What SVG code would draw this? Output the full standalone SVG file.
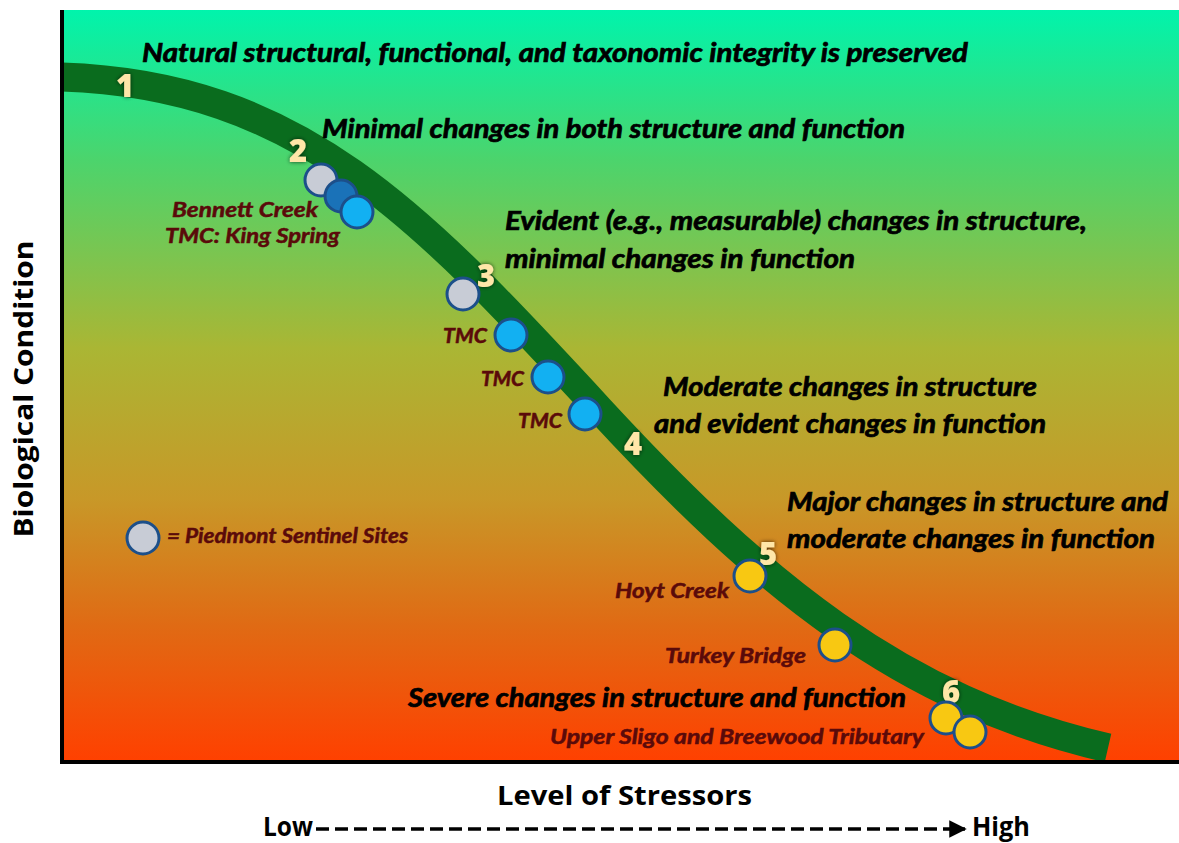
<svg xmlns="http://www.w3.org/2000/svg" width="1179" height="843" viewBox="0 0 1179 843">
  <defs>
    <linearGradient id="bg" x1="0" y1="10" x2="0" y2="762" gradientUnits="userSpaceOnUse">
      <stop offset="0" stop-color="#00f4ac"/>
      <stop offset="0.2" stop-color="#4cd46c"/>
      <stop offset="0.45" stop-color="#aab634"/>
      <stop offset="0.65" stop-color="#c89828"/>
      <stop offset="0.82" stop-color="#e06a14"/>
      <stop offset="1" stop-color="#ff4000"/>
    </linearGradient>
    <filter id="glow" x="-50%" y="-50%" width="200%" height="200%">
      <feGaussianBlur in="SourceAlpha" stdDeviation="2"/>
      <feComponentTransfer><feFuncA type="linear" slope="0.7"/></feComponentTransfer>
      <feMerge><feMergeNode/><feMergeNode in="SourceGraphic"/></feMerge>
    </filter>
    <marker id="arrow" viewBox="0 0 10 10" refX="9" refY="5" markerWidth="5" markerHeight="5" orient="auto" markerUnits="strokeWidth">
      <path d="M0 0 L10 5 L0 10 z" fill="#000"/>
    </marker>
  </defs>
  <style>
    .head { font-family: Lato, "Open Sans", sans-serif; font-weight: bold; font-style: italic; font-size: 27px; fill: #000; stroke: #000; stroke-width: 0.7; }
    .site { font-family: Lato, "Open Sans", sans-serif; font-weight: bold; font-style: italic; font-size: 20px; fill: #5a0a0a; stroke: #5a0a0a; stroke-width: 0.5; }
    .num { font-family: "Open Sans", Lato, sans-serif; font-weight: 800; font-size: 31px; fill: #ffe6a8; filter: url(#glow); }
    .axis { font-family: "Open Sans", Lato, sans-serif; font-weight: bold; font-size: 27px; fill: #000; }
    .gray { fill: #c8ccd6; stroke: #1c4f8a; stroke-width: 3; }
    .dblue { fill: #1a72b8; stroke: #1c4f8a; stroke-width: 3; }
    .lblue { fill: #12b0f2; stroke: #1c4f8a; stroke-width: 3; }
    .yellow { fill: #f8c812; stroke: #1c4f8a; stroke-width: 3; }
  </style>

  <rect width="1179" height="843" fill="#fff"/>
  <!-- plot background -->
  <rect x="62" y="10" width="1117" height="752" fill="url(#bg)"/>

  <!-- condition curve -->
  <g id="connectors">
    <path id="curve" d="M 62 77 C 300 85, 420 215, 600 410 C 760 583, 900 700, 1108 748" fill="none" stroke="#0a6c1e" stroke-width="29"/>
  </g>

  <!-- axes -->
  <g id="axes">
    <line x1="62" y1="10" x2="62" y2="764" stroke="#000" stroke-width="4"/>
    <line x1="60" y1="762" x2="1179" y2="762" stroke="#000" stroke-width="4"/>
  </g>

  <!-- tier numbers -->
  <g id="tiers">
    <text class="num" x="116" y="97">1</text>
    <text class="num" x="289" y="162">2</text>
    <text class="num" x="477" y="287">3</text>
    <text class="num" x="624" y="455">4</text>
    <text class="num" x="759" y="565">5</text>
    <text class="num" x="942" y="703">6</text>
  </g>

  <!-- tier descriptions -->
  <g id="descriptions">
    <text class="head" x="142" y="62" textLength="826" lengthAdjust="spacingAndGlyphs">Natural structural, functional, and taxonomic integrity is preserved</text>
    <text class="head" x="322" y="138" textLength="583" lengthAdjust="spacingAndGlyphs">Minimal changes in both structure and function</text>
    <text class="head" x="505" y="230" textLength="582" lengthAdjust="spacingAndGlyphs">Evident (e.g., measurable) changes in structure,</text>
    <text class="head" x="505" y="268" textLength="350" lengthAdjust="spacingAndGlyphs">minimal changes in function</text>
    <text class="head" x="663" y="396" textLength="374" lengthAdjust="spacingAndGlyphs">Moderate changes in structure</text>
    <text class="head" x="654" y="433" textLength="392" lengthAdjust="spacingAndGlyphs">and evident changes in function</text>
    <text class="head" x="787" y="511" textLength="381" lengthAdjust="spacingAndGlyphs">Major changes in structure and</text>
    <text class="head" x="787" y="548" textLength="368" lengthAdjust="spacingAndGlyphs">moderate changes in function</text>
    <text class="head" x="408" y="707" textLength="498" lengthAdjust="spacingAndGlyphs">Severe changes in structure and function</text>
  </g>

  <!-- monitoring sites -->
  <g id="site-bennett">
    <circle class="gray" cx="321" cy="180" r="16"/>
    <circle class="dblue" cx="341" cy="196" r="16"/>
    <circle class="lblue" cx="357" cy="212" r="16"/>
    <text class="site" x="172" y="217" textLength="146" lengthAdjust="spacingAndGlyphs">Bennett Creek</text>
    <text class="site" x="165" y="243" textLength="175" lengthAdjust="spacingAndGlyphs">TMC: King Spring</text>
  </g>
  <g id="site-tier3">
    <circle class="gray" cx="463" cy="294" r="16"/>
  </g>
  <g id="site-tmc1">
    <circle class="lblue" cx="511" cy="335" r="16"/>
    <text class="site" x="443" y="343" textLength="44" lengthAdjust="spacingAndGlyphs">TMC</text>
  </g>
  <g id="site-tmc2">
    <circle class="lblue" cx="548" cy="377" r="16"/>
    <text class="site" x="481" y="386" textLength="43" lengthAdjust="spacingAndGlyphs">TMC</text>
  </g>
  <g id="site-tmc3">
    <circle class="lblue" cx="585" cy="414" r="16"/>
    <text class="site" x="518" y="428" textLength="44" lengthAdjust="spacingAndGlyphs">TMC</text>
  </g>
  <g id="site-hoyt">
    <circle class="yellow" cx="750" cy="576" r="16"/>
    <text class="site" x="615" y="598" textLength="114" lengthAdjust="spacingAndGlyphs">Hoyt Creek</text>
  </g>
  <g id="site-turkey">
    <circle class="yellow" cx="835" cy="645" r="16"/>
    <text class="site" x="665" y="663" textLength="141" lengthAdjust="spacingAndGlyphs">Turkey Bridge</text>
  </g>
  <g id="site-sligo">
    <circle class="yellow" cx="946" cy="718" r="16"/>
    <circle class="yellow" cx="970" cy="732" r="16"/>
    <text class="site" x="550" y="744" textLength="374" lengthAdjust="spacingAndGlyphs">Upper Sligo and Breewood Tributary</text>
  </g>

  <!-- legend -->
  <g id="legend">
    <circle class="gray" cx="143" cy="538" r="16"/>
    <text class="site" x="167" y="543" font-size="18" textLength="241" lengthAdjust="spacingAndGlyphs">= Piedmont Sentinel Sites</text>
  </g>

  <!-- axis titles -->
  <g id="y-axis-label">
    <text class="axis" transform="translate(33 389) rotate(-90)" text-anchor="middle" textLength="297" lengthAdjust="spacingAndGlyphs">Biological Condition</text>
  </g>
  <g id="x-axis-label">
    <text class="axis" x="497" y="805" textLength="255" lengthAdjust="spacingAndGlyphs">Level of Stressors</text>
    <text class="axis" x="263" y="836" font-size="23" textLength="50" lengthAdjust="spacingAndGlyphs">Low</text>
    <line x1="316" y1="829" x2="965" y2="829" stroke="#000" stroke-width="3.5" stroke-dasharray="13 6" marker-end="url(#arrow)"/>
    <text class="axis" x="972" y="836" font-size="23" textLength="58" lengthAdjust="spacingAndGlyphs">High</text>
  </g>
</svg>
